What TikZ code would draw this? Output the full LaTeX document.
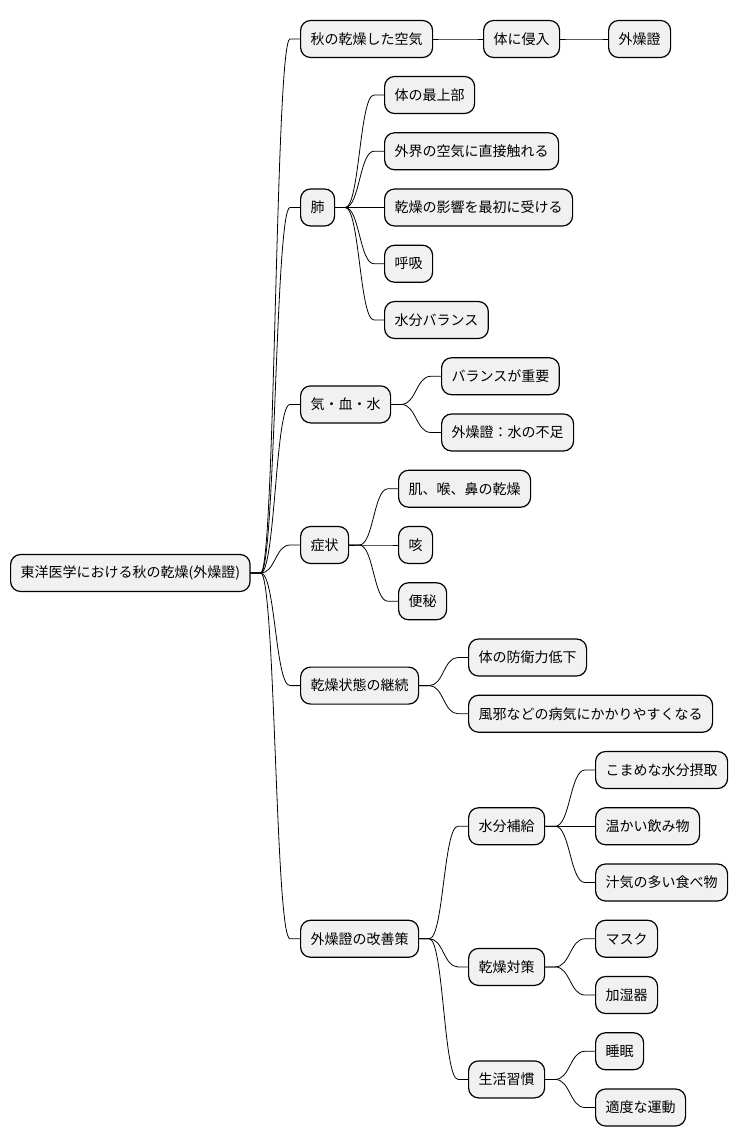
\documentclass[tikz,border=0pt]{standalone}
\usepackage{fontspec}
\setmainfont{Noto Sans CJK JP}
\usetikzlibrary{calc}
\definecolor{boxfill}{HTML}{F1F1F1}
\tikzset{
  idea/.style={draw, line width=1.2pt, fill=boxfill, rounded corners=10pt,
    minimum height=37pt, inner xsep=10pt, anchor=west,
    font=\fontsize{14}{16}\selectfont},
  branch/.style={line width=0.8pt}
}
% Zweig: kurzes Stueck, S-Kurve, kurzes Stueck
\newcommand{\branchto}[2]{%
  \draw[branch] let \p1=(#1.east), \p2=(#2.west) in
    (\p1) -- (\x1+10pt,\y1)
    .. controls ({(\x1+\x2)/2},\y1) and ({(\x1+\x2)/2},\y2) ..
    (\x2-10pt,\y2) -- (\p2);}

\begin{document}
\begin{tikzpicture}[x=1pt, y=-1pt]
    \useasboundingbox (0,0) rectangle (737,1146);

    % Wurzel
    \node[idea] (root) at (10,573) {東洋医学における秋の乾燥(外燥證)};

    % erste Ebene
    \node[idea] (air) at (300,39) {秋の乾燥した空気};
    \node[idea] (lung) at (300,207.5) {肺};
    \node[idea] (kiketsu) at (300,404.4) {気・血・水};
    \node[idea] (symptom) at (300,545) {症状};
    \node[idea] (lasting) at (300,685.6) {乾燥状態の継続};
    \node[idea] (remedy) at (300,938.75) {外燥證の改善策};

    % Luft
    \node[idea] (invade) at (483,39) {体に侵入};
    \node[idea] (gaiso) at (608,39) {外燥證};

    % Lunge
    \node[idea] (lungtop) at (384,95) {体の最上部};
    \node[idea] (lungair) at (384,151.25) {外界の空気に直接触れる};
    \node[idea] (lungfirst) at (384,207.5) {乾燥の影響を最初に受ける};
    \node[idea] (breath) at (384,263.75) {呼吸};
    \node[idea] (lungwater) at (384,320) {水分バランス};

    % Ki, Blut, Wasser
    \node[idea] (balance) at (441,376.25) {バランスが重要};
    \node[idea] (lack) at (441,432.5) {外燥證：水の不足};

    % Symptome
    \node[idea] (skin) at (398,488.75) {肌、喉、鼻の乾燥};
    \node[idea] (cough) at (398,545) {咳};
    \node[idea] (constip) at (398,601.25) {便秘};

    % Fortdauer
    \node[idea] (defense) at (468,657.5) {体の防衛力低下};
    \node[idea] (illness) at (468,713.75) {風邪などの病気にかかりやすくなる};

    % Massnahmen
    \node[idea] (water) at (468,826.25) {水分補給};
    \node[idea] (dryproof) at (468,966.9) {乾燥対策};
    \node[idea] (habit) at (468,1079.4) {生活習慣};
    \node[idea] (frequent) at (595,770) {こまめな水分摂取};
    \node[idea] (warm) at (595,826.25) {温かい飲み物};
    \node[idea] (juicy) at (595,882.5) {汁気の多い食べ物};
    \node[idea] (mask) at (595,938.75) {マスク};
    \node[idea] (humid) at (595,995) {加湿器};
    \node[idea] (sleep) at (595,1051.25) {睡眠};
    \node[idea] (exercise) at (595,1107.5) {適度な運動};

    % Verbindungen
    \foreach \kid in {air,lung,kiketsu,symptom,lasting,remedy}
        {\branchto{root}{\kid}}
    \branchto{air}{invade}
    \branchto{invade}{gaiso}
    \foreach \kid in {lungtop,lungair,lungfirst,breath,lungwater}
        {\branchto{lung}{\kid}}
    \foreach \kid in {balance,lack}
        {\branchto{kiketsu}{\kid}}
    \foreach \kid in {skin,cough,constip}
        {\branchto{symptom}{\kid}}
    \foreach \kid in {defense,illness}
        {\branchto{lasting}{\kid}}
    \foreach \kid in {water,dryproof,habit}
        {\branchto{remedy}{\kid}}
    \foreach \kid in {frequent,warm,juicy}
        {\branchto{water}{\kid}}
    \foreach \kid in {mask,humid}
        {\branchto{dryproof}{\kid}}
    \foreach \kid in {sleep,exercise}
        {\branchto{habit}{\kid}}
\end{tikzpicture}
\end{document}
